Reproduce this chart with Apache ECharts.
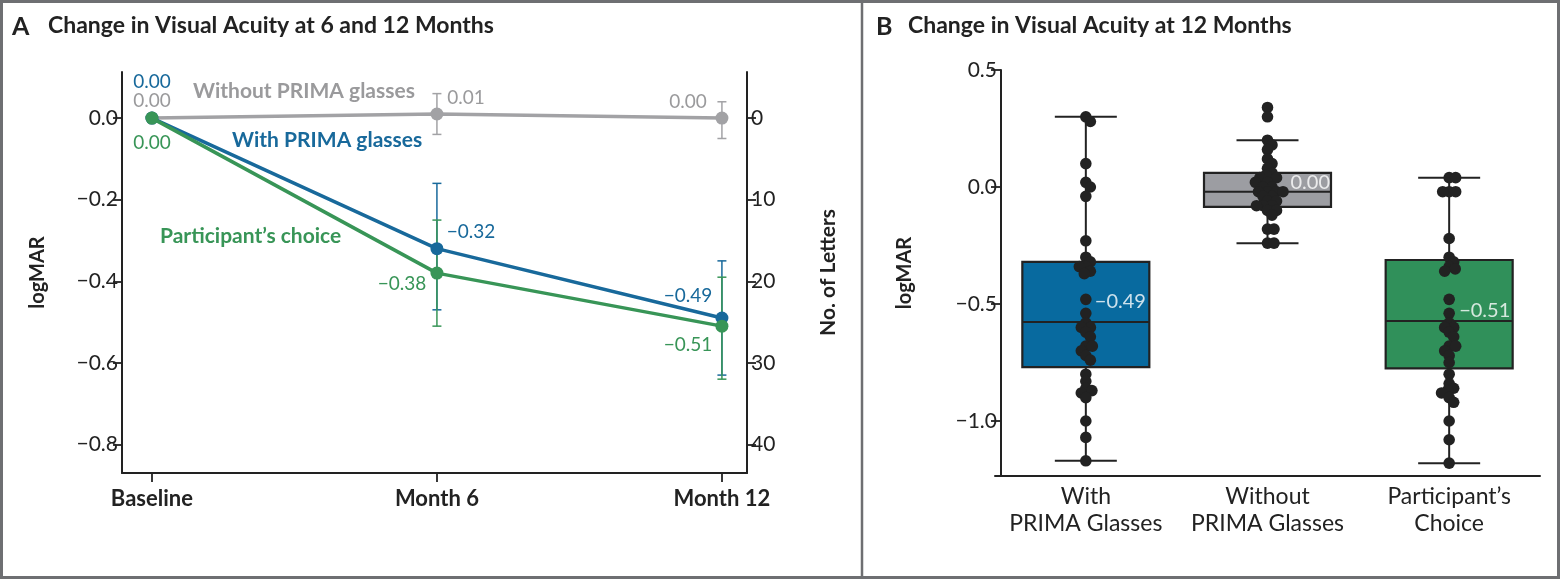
<!DOCTYPE html>
<html><head><meta charset="utf-8">
<script src="https://cdn.jsdelivr.net/npm/echarts@6/dist/echarts.min.js"></script>
<style>html,body{margin:0;padding:0;background:#fff;}#c{width:1560px;height:579px;}</style>
</head><body><div id="c"></div>
<script>
// ---------- Panel A data ----------
const timepoints = ['Baseline', 'Month 6', 'Month 12'];
const withGlassesMean = [0.00, -0.32, -0.49];
const withGlassesLow = [null, -0.47, -0.63];
const withGlassesHigh = [null, -0.16, -0.35];
const withoutGlassesMean = [0.00, 0.01, 0.00];
const withoutGlassesLow = [null, -0.04, -0.05];
const withoutGlassesHigh = [null, 0.06, 0.04];
const choiceMean = [0.00, -0.38, -0.51];
const choiceLow = [null, -0.51, -0.64];
const choiceHigh = [null, -0.25, -0.39];
const logmarTicksA = [0, -0.2, -0.4, -0.6, -0.8];
const letterTicks = [0, 10, 20, 30, 40];

// ---------- Panel B data ----------
const groups = ['With\nPRIMA Glasses', 'Without\nPRIMA Glasses', 'Participant\u2019s\nChoice'];
// [min, Q1, median, Q3, max]
const boxWith = [-1.17, -0.77, -0.577, -0.32, 0.30];
const boxWithout = [-0.24, -0.085, -0.02, 0.06, 0.20];
const boxChoice = [-1.18, -0.775, -0.573, -0.312, 0.04];
const meansB = [-0.49, 0.00, -0.51];
const dotsWith = [0.30, 0.28, 0.10, 0.02, 0.00, -0.04, -0.23, -0.30, -0.32, -0.34, -0.34, -0.36, -0.37,
  -0.48, -0.54, -0.58, -0.60, -0.60, -0.62, -0.64, -0.68, -0.68, -0.70, -0.72, -0.74,
  -0.80, -0.83, -0.86, -0.87, -0.88, -0.90, -1.00, -1.07, -1.17];
const dotsWithout = [0.34, 0.30, 0.20, 0.18, 0.16, 0.12, 0.10, 0.08, 0.06, 0.05, 0.04, 0.04, 0.02, 0.02,
  0.00, 0.00, -0.02, -0.02, -0.02, -0.02, -0.04, -0.04, -0.06, -0.06, -0.08, -0.08, -0.08,
  -0.10, -0.10, -0.12, -0.18, -0.18, -0.24, -0.24];
const dotsChoice = [0.04, 0.04, -0.02, -0.02, -0.02, -0.22, -0.30, -0.32, -0.34, -0.35, -0.36,
  -0.48, -0.54, -0.58, -0.60, -0.60, -0.62, -0.64, -0.68, -0.68, -0.70, -0.72, -0.75,
  -0.80, -0.84, -0.86, -0.87, -0.88, -0.90, -0.92, -1.00, -1.08, -1.18];
const logmarTicksB = [0.5, 0, -0.5, -1.0];

// ---------- styles ----------
const C_BLUE = '#18699b', C_GREEN = '#389557', C_GRAY = '#a2a2a5', C_GRAYTXT = '#9a9a9c';
const BOX_COLORS = ['#086a9f', '#9c9da2', '#30905a'];
const INK = '#222';
const FONT = 'Lato, "Noto Sans", sans-serif';
const DOT_R = 5.8;
const BOX_HALF = 63.5, CAP_HALF = 31;

function fmt(v, d) { return (v < 0 ? '\u2212' : '') + Math.abs(v).toFixed(d); }

// label placement (style only): offsets from point center
const labelOffsets = {
  without: [[0, -17], [29, -16], [-34, -16]],
  with: [[0, -36], [34, -17], [-34, -22]],
  choice: [[0, 25], [-35, 11], [-34, 19]]
};

function lineSeries(name, means, color, txtColor, offs, z) {
  return {
    name, type: 'line', xAxisIndex: 0, yAxisIndex: 0, z,
    data: means.map((v, i) => ({
      value: [i, v],
      label: { show: true, position: 'inside', offset: offs[i], formatter: fmt(v, 2),
        color: txtColor, fontSize: 19, fontFamily: FONT }
    })),
    symbol: 'circle', symbolSize: 13, showSymbol: true,
    lineStyle: { color, width: 3.5 }, itemStyle: { color },
    emphasis: { disabled: true }, animation: false
  };
}
function errSeries(low, high, color, z) {
  const data = [];
  low.forEach((l, i) => { if (l !== null) data.push([i, l, high[i]]); });
  return {
    type: 'custom', xAxisIndex: 0, yAxisIndex: 0, z, data, encode: { x: 0, y: [1, 2] },
    renderItem(params, api) {
      const a = api.coord([api.value(0), api.value(2)]);
      const b = api.coord([api.value(0), api.value(1)]);
      const w = 4.5, st = { stroke: color, lineWidth: 1.5 };
      return { type: 'group', children: [
        { type: 'line', shape: { x1: a[0], y1: a[1], x2: b[0], y2: b[1] }, style: st },
        { type: 'line', shape: { x1: a[0] - w, y1: a[1], x2: a[0] + w, y2: a[1] }, style: st },
        { type: 'line', shape: { x1: b[0] - w, y1: b[1], x2: b[0] + w, y2: b[1] }, style: st }
      ]};
    }, animation: false
  };
}
function boxSeries(boxes) {
  return {
    type: 'custom', xAxisIndex: 1, yAxisIndex: 2, z: 2,
    data: boxes.map((b, i) => [i].concat(b)),
    encode: { x: 0, y: [1, 2, 3, 4, 5] },
    renderItem(params, api) {
      const i = api.value(0);
      const pMin = api.coord([i, api.value(1)]), pQ1 = api.coord([i, api.value(2)]);
      const pMed = api.coord([i, api.value(3)]), pQ3 = api.coord([i, api.value(4)]);
      const pMax = api.coord([i, api.value(5)]);
      const x = pMin[0];
      const st = { stroke: INK, lineWidth: 2 };
      return { type: 'group', children: [
        { type: 'line', shape: { x1: x, y1: pMax[1], x2: x, y2: pMin[1] }, style: st },
        { type: 'line', shape: { x1: x - CAP_HALF, y1: pMax[1], x2: x + CAP_HALF, y2: pMax[1] }, style: st },
        { type: 'line', shape: { x1: x - CAP_HALF, y1: pMin[1], x2: x + CAP_HALF, y2: pMin[1] }, style: st },
        { type: 'rect', shape: { x: x - BOX_HALF, y: pQ3[1], width: 2 * BOX_HALF, height: pQ1[1] - pQ3[1] },
          style: { fill: BOX_COLORS[params.dataIndex], stroke: INK, lineWidth: 2.2 } },
        { type: 'line', shape: { x1: x - BOX_HALF, y1: pMed[1], x2: x + BOX_HALF, y2: pMed[1] }, style: st }
      ]};
    }, animation: false
  };
}
function dotSeries(values, cat, offsets) {
  return {
    type: 'custom', xAxisIndex: 1, yAxisIndex: 2, z: 5,
    data: values.map((v, i) => [cat, v, offsets ? offsets[i] : 0]),
    encode: { x: 0, y: 1 },
    renderItem(params, api) {
      const p = api.coord([api.value(0), api.value(1)]);
      return { type: 'circle', shape: { cx: p[0] + api.value(2), cy: p[1], r: DOT_R }, style: { fill: INK } };
    }, animation: false
  };
}

const axisLineStyle = { color: INK, width: 2 };
const tickStyle = { color: INK, width: 1.8 };

function buildOption(offW, offWo, offC) {
  return {
    backgroundColor: '#fff',
    animation: false,
    textStyle: { fontFamily: FONT },
    grid: [
      { left: 122, top: 72, width: 625, height: 401 },
      { left: 995, top: 70, width: 545, height: 406 }
    ],
    xAxis: [
      { gridIndex: 0, type: 'value', min: -0.105, max: 2.088,
        axisLine: { show: true, onZero: false, lineStyle: axisLineStyle },
        axisTick: { show: true, customValues: [0, 1, 2], length: 9, lineStyle: tickStyle },
        axisLabel: { customValues: [0, 1, 2], formatter: v => timepoints[Math.round(v)] || '',
          fontSize: 22, fontWeight: 'bold', color: INK, margin: 15, fontFamily: FONT },
        splitLine: { show: false } },
      { gridIndex: 1, type: 'category', data: groups,
        axisLine: { show: true, onZero: false, lineStyle: axisLineStyle },
        axisTick: { show: false },
        axisLabel: { fontSize: 23, color: INK, margin: 7, lineHeight: 27, fontFamily: FONT, interval: 0 },
        splitLine: { show: false } }
    ],
    yAxis: [
      { gridIndex: 0, type: 'value', position: 'left', min: -0.87, max: 0.113,
        axisLine: { show: true, onZero: false, lineStyle: axisLineStyle },
        axisTick: { show: true, customValues: logmarTicksA, length: 9, lineStyle: tickStyle },
        axisLabel: { customValues: logmarTicksA, formatter: v => fmt(v, 1), fontSize: 21, color: INK, margin: 4, fontFamily: FONT },
        splitLine: { show: false },
        name: 'logMAR', nameLocation: 'middle', nameGap: 74, nameRotate: 90,
        nameTextStyle: { fontSize: 20, fontWeight: 'bold', color: INK, fontFamily: FONT } },
      { gridIndex: 0, type: 'value', position: 'right', min: -5.65, max: 43.5, inverse: true,
        axisLine: { show: true, onZero: false, lineStyle: axisLineStyle },
        axisTick: { show: true, customValues: letterTicks, length: 9, lineStyle: tickStyle },
        axisLabel: { customValues: letterTicks, formatter: v => String(v), fontSize: 21, color: INK, margin: 4, fontFamily: FONT },
        splitLine: { show: false },
        name: 'No. of Letters', nameLocation: 'middle', nameGap: 71, nameRotate: 90,
        nameTextStyle: { fontSize: 21, fontWeight: 'bold', color: INK, fontFamily: FONT } },
      { gridIndex: 1, type: 'value', position: 'left', min: -1.235, max: 0.5, offset: -6,
        axisLine: { show: true, onZero: false, lineStyle: axisLineStyle },
        axisTick: { show: true, customValues: logmarTicksB, length: 10, lineStyle: tickStyle },
        axisLabel: { customValues: logmarTicksB, formatter: v => fmt(v, 1), fontSize: 21, color: INK, margin: 4, fontFamily: FONT },
        splitLine: { show: false },
        name: 'logMAR', nameLocation: 'middle', nameGap: 86, nameRotate: 90,
        nameTextStyle: { fontSize: 20, fontWeight: 'bold', color: INK, fontFamily: FONT } }
    ],
    series: [
      errSeries(withoutGlassesLow, withoutGlassesHigh, C_GRAY, 1),
      errSeries(withGlassesLow, withGlassesHigh, C_BLUE, 1),
      errSeries(choiceLow, choiceHigh, C_GREEN, 1),
      lineSeries('Without PRIMA glasses', withoutGlassesMean, C_GRAY, C_GRAYTXT, labelOffsets.without, 2),
      lineSeries('With PRIMA glasses', withGlassesMean, C_BLUE, C_BLUE, labelOffsets.with, 3),
      lineSeries('Participant\u2019s choice', choiceMean, C_GREEN, C_GREEN, labelOffsets.choice, 4),
      boxSeries([boxWith, boxWithout, boxChoice]),
      dotSeries(dotsWith, 0, offW),
      dotSeries(dotsWithout, 1, offWo),
      dotSeries(dotsChoice, 2, offC),
      { type: 'scatter', xAxisIndex: 1, yAxisIndex: 2, z: 8, symbolSize: 0,
        data: meansB.map((v, i) => ({ value: [i, v],
          label: { show: true, position: 'right', distance: 0,
            offset: [[9, 0], [23, -4], [10, 4]][i],
            formatter: fmt(v, 2), color: '#fff', fontSize: 20, fontFamily: FONT } })),
        emphasis: { disabled: true }, animation: false }
    ],
    graphic: [
      { type: 'rect', shape: { x: 1.5, y: 1.5, width: 1557, height: 576 }, style: { fill: 'none', stroke: '#6e6f72', lineWidth: 3 }, z: 100 },
      { type: 'line', shape: { x1: 862, y1: 0, x2: 862, y2: 579 }, style: { stroke: '#6e6f72', lineWidth: 2.5 }, z: 100 },
      { type: 'text', left: 12, top: 14, style: { text: 'A', font: 'bold 25px ' + FONT, fill: INK } },
      { type: 'text', left: 48, top: 14, style: { text: 'Change in Visual Acuity at 6 and 12 Months', font: 'bold 23px ' + FONT, fill: INK } },
      { type: 'text', left: 876, top: 14, style: { text: 'B', font: 'bold 25px ' + FONT, fill: INK } },
      { type: 'text', left: 908, top: 14, style: { text: 'Change in Visual Acuity at 12 Months', font: 'bold 23px ' + FONT, fill: INK } },
      { type: 'text', left: 193, top: 81, style: { text: 'Without PRIMA glasses', font: 'bold 21px ' + FONT, fill: C_GRAYTXT } },
      { type: 'text', left: 232, top: 130, style: { text: 'With PRIMA glasses', font: 'bold 21px ' + FONT, fill: C_BLUE } },
      { type: 'text', left: 160, top: 226, style: { text: 'Participant\u2019s choice', font: 'bold 21px ' + FONT, fill: C_GREEN } }
    ]
  };
}

// beeswarm layout in pixel space (deterministic, seaborn-like)
function swarm(ys, minDist) {
  const order = ys.map((y, i) => i).sort((a, b) => ys[a] - ys[b]);
  const placed = [], dx = new Array(ys.length).fill(0);
  const d2 = minDist * minDist;
  for (const i of order) {
    const y = ys[i];
    const cands = [0];
    for (const p of placed) {
      const dy = y - p.y;
      if (Math.abs(dy) < minDist) {
        const h = Math.sqrt(d2 - dy * dy);
        cands.push(p.x + h, p.x - h);
      }
    }
    cands.sort((a, b) => Math.abs(a) - Math.abs(b) || b - a);
    for (const c of cands) {
      if (placed.every(p => (p.x - c) * (p.x - c) + (p.y - y) * (p.y - y) >= d2 - 0.01)) {
        dx[i] = c; placed.push({ x: c, y }); break;
      }
    }
  }
  return dx;
}

const chart = echarts.init(document.getElementById('c'), null, { renderer: 'canvas' });
chart.setOption(buildOption(null, null, null));
function offsetsFor(values) {
  const ys = values.map(v => chart.convertToPixel({ yAxisIndex: 2 }, v));
  return swarm(ys, 6.5);
}
chart.setOption(buildOption(offsetsFor(dotsWith), offsetsFor(dotsWithout), offsetsFor(dotsChoice)));
</script></body></html>
